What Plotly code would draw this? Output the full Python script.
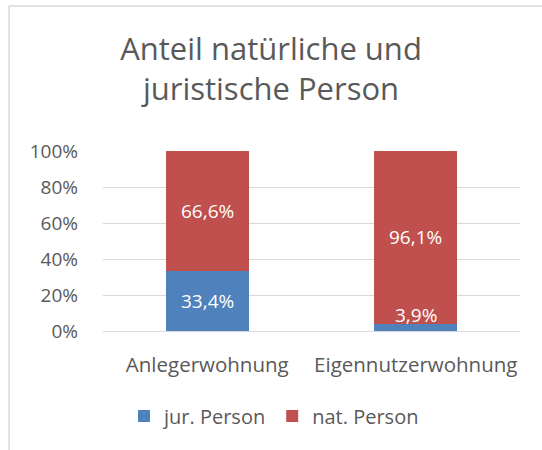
import plotly.graph_objects as go

categories = ["Anlegerwohnung", "Eigennutzerwohnung"]
jur_person = [33.4, 3.9]
nat_person = [66.6, 96.1]
y_ticks = [0, 20, 40, 60, 80, 100]
y_tick_labels = [f"{v}%" for v in y_ticks]

BLUE = "#4F81BD"
RED = "#C0504D"
TXT = "#595959"
FONT = "Open Sans"

fig = go.Figure()
fig.add_trace(go.Bar(x=categories, y=jur_person, name="jur. Person",
                     marker=dict(color=BLUE, line=dict(width=0))))
fig.add_trace(go.Bar(x=categories, y=nat_person, name="nat. Person",
                     marker=dict(color=RED, line=dict(width=0))))

annotations = []
for cat, j, n in zip(categories, jur_person, nat_person):
    for base, val in ((0, j), (j, n)):
        label = f"{val:.1f}%".replace(".", ",")
        if val < 10:
            annotations.append(dict(x=cat, y=base + val, text=label, showarrow=False,
                                    yanchor="bottom", yshift=-6,
                                    font=dict(color="white", size=19, family=FONT)))
        else:
            annotations.append(dict(x=cat, y=base + val / 2, text=label, showarrow=False,
                                    yanchor="middle",
                                    font=dict(color="white", size=19, family=FONT)))

L, R, T, B = 103, 22, 151, 119
pw, ph = 542 - L - R, 450 - T - B

fig.update_layout(
    width=542, height=450,
    barmode="stack", bargap=0.6,
    margin=dict(l=L, r=R, t=T, b=B),
    paper_bgcolor="white", plot_bgcolor="white",
    font=dict(family=FONT, color=TXT, size=20),
    title=dict(text="Anteil natürliche und<br>juristische Person",
               x=0.5, xref="container", xanchor="center",
               y=1 - 60 / 450, yanchor="top",
               font=dict(size=31, color=TXT, family=FONT)),
    xaxis=dict(showgrid=False, showline=False, ticks="", ticklabelstandoff=19,
               tickfont=dict(size=20.5, color=TXT)),
    yaxis=dict(range=[0, 100], tickvals=y_ticks, ticktext=y_tick_labels,
               showgrid=True, gridcolor="#D9D9D9", gridwidth=1,
               zeroline=True, zerolinecolor="#D9D9D9", zerolinewidth=1,
               showline=False, ticks="", ticklabelstandoff=24,
               tickfont=dict(size=19, color=TXT)),
    legend=dict(orientation="h", x=(124 - L) / pw, xanchor="left",
                y=(331 - 416) / ph, yanchor="middle",
                font=dict(size=20, color=TXT), itemwidth=30, traceorder="normal"),
    annotations=annotations,
    shapes=[
        dict(type="line", xref="paper", yref="paper",
             x0=(9 - L) / pw, x1=(560 - L) / pw,
             y0=(331 - 6) / ph, y1=(331 - 6) / ph,
             line=dict(color="#D9D9D9", width=1.5)),
        dict(type="line", xref="paper", yref="paper",
             x0=(9 - L) / pw, x1=(9 - L) / pw,
             y0=(331 - 6) / ph, y1=(331 - 470) / ph,
             line=dict(color="#D9D9D9", width=1.5)),
    ],
)

fig.write_html("out.html", config={"displayModeBar": False},
               post_script="document.body.style.margin='0';")
